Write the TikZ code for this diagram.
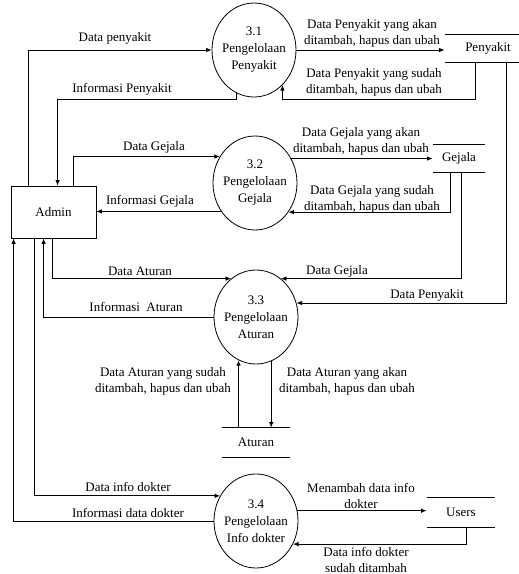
\documentclass[tikz,border=0pt]{standalone}
\usepackage{fontspec}
\setmainfont{Liberation Serif}
\usetikzlibrary{arrows.meta,shapes.geometric}
\begin{document}
\begin{tikzpicture}[x=1pt,y=-1pt,
  font=\fontsize{13}{16}\selectfont,
  line width=0.8pt,
  flow/.style={draw,-{Latex[length=5.5pt,width=4.5pt]}},
  proc/.style={ellipse,draw,minimum width=84pt,minimum height=94pt,inner sep=0pt},
  ptext/.style={align=center,inner sep=0pt,font=\fontsize{13}{17}\selectfont},
  entity/.style={draw,rectangle,minimum width=85pt,minimum height=52pt},
  store/.style={rectangle,inner sep=0pt,
    append after command={(\tikzlastnode.north west) edge (\tikzlastnode.north east)
                          (\tikzlastnode.south west) edge (\tikzlastnode.south east)}},
  lbl/.style={align=center,inner sep=0pt}
]
\useasboundingbox (0,0) rectangle (519,574);
\clip (0,0) rectangle (519,574);

% external entity
\node[entity] (admin) at (53.5,212) {Admin};

% processes
\node[proc] (p1) at (254,50) {};
\node[proc] (p2) at (255,183) {};
\node[proc] (p3) at (256,317) {};
\node[proc] (p4) at (256,521) {};
\node[ptext] (t1) at (p1) {3.1\\Pengelolaan\\Penyakit};
\node[ptext] (t2) at (p2) {3.2\\Pengelolaan\\Gejala};
\node[ptext] (t3) at (p3) {3.3\\Pengelolaan\\Aturan};
\node[ptext] (t4) at (p4) {3.4\\Pengelolaan\\Info dokter};

% data stores
\node[store,minimum width=86pt,minimum height=27pt] (s1) at (488,48.5) {Penyakit};
\node[store,minimum width=52pt,minimum height=27pt] (s2) at (459,158.5) {Gejala};
\node[store,minimum width=68pt,minimum height=29pt] (s3) at (256,442.5) {Aturan};
\node[store,minimum width=68pt,minimum height=29pt] (s4) at (461,512.5) {Users};

% attachment points on the entity and the stores
\coordinate (a1) at ([xshift=18pt]admin.north west);
\coordinate (a2) at ([xshift=47pt]admin.north west);
\coordinate (a3) at ([xshift=63pt]admin.north west);
\coordinate (b1) at ([xshift=3pt]admin.south west);
\coordinate (b2) at ([xshift=24pt]admin.south west);
\coordinate (b3) at ([xshift=33pt]admin.south west);
\coordinate (b4) at ([xshift=42pt]admin.south west);
\coordinate (k1) at ([xshift=31pt]s1.south west);
\coordinate (k2) at ([xshift=62pt]s1.south west);
\coordinate (g1) at ([xshift=18pt]s2.south west);
\coordinate (g2) at ([xshift=29pt]s2.south west);
\coordinate (u1) at ([xshift=40pt]s4.south west);

% flows of 3.1
\draw[flow] (a1) |- (p1);
\draw[flow] (p1.248) -- (p1.248 |- 0,99) -| (a2);
\draw[flow] (p1.east) -- (p1.east -| s1.west);
\draw[flow] (k1) -- (k1 |- 0,99) -| (p1.309);
% flows of 3.2
\draw[flow] (a3) |- (p2.143);
\draw[flow] (p2.220) -- (p2.220 -| admin.east);
\draw[flow] (p2.34) -- (p2.34 -| s2.west);
\draw[flow] (g1) |- (p2.319);
% flows of 3.3
\draw[flow] (b4) |- (p3.123);
\draw[flow] (p3.west) -| (b3);
\draw[flow] (g2) |- (p3.57);
\draw[flow] (k2) |- (p3.19);
\draw[flow] (p3.248 |- s3.north) -- (p3.248);
\draw[flow] (p3.289) -- (p3.289 |- s3.north);
% flows of 3.4
\draw[flow] (b2) |- (p4.145);
\draw[flow] (p4.west) -| (b1);
\draw[flow] (p4.14) -- (p4.14 -| s4.west);
\draw[flow] (u1) |- (p4.328);

% flow labels
\node[lbl] (l1) at (115,38) {Data penyakit};
\node[lbl] (l2) at (122,89) {Informasi Penyakit};
\node[lbl] (l3) at (154,147) {Data Gejala};
\node[lbl] (l4) at (150,201) {Informasi Gejala};
\node[lbl] (l5) at (140,271) {Data Aturan};
\node[lbl] (l6) at (136,307) {Informasi\ \ Aturan};
\node[lbl] (l7) at (163,381) {Data Aturan yang sudah\\ditambah, hapus dan ubah};
\node[lbl] (l8) at (128,487) {Data info dokter};
\node[lbl] (l9) at (128,513) {Informasi data dokter};
\node[lbl] (r1) at (372,33.5) {Data Penyakit yang akan\\ditambah, hapus dan ubah};
\node[lbl] (r2) at (374,82) {Data Penyakit yang sudah\\ditambah, hapus dan ubah};
\node[lbl] (r3) at (361,141) {Data Gejala yang akan\\ditambah, hapus dan ubah};
\node[lbl] (r4) at (372,199) {Data Gejala yang sudah\\ditambah, hapus dan ubah};
\node[lbl] (r5) at (337,271) {Data Gejala};
\node[lbl] (r6) at (427,295) {Data Penyakit};
\node[lbl] (r7) at (347,381) {Data Aturan yang akan\\ditambah, hapus dan ubah};
\node[lbl] (r8) at (361,496) {Menambah data info\\dokter};
\node[lbl] (r9) at (366,560) {Data info dokter\\sudah ditambah};
\end{tikzpicture}
\end{document}
